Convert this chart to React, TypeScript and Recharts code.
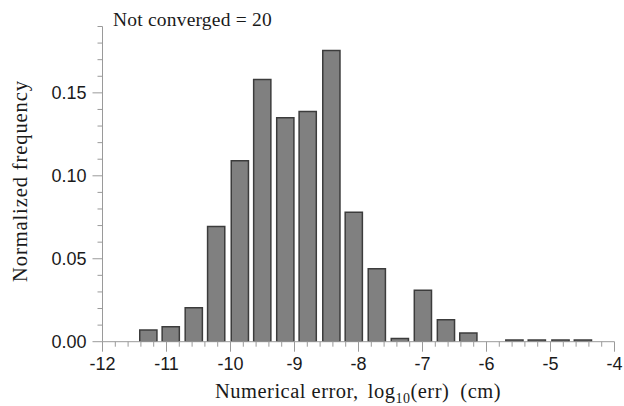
import React from "react";
import { BarChart, Bar, XAxis, YAxis, Customized } from "recharts";

// Histogram bins: centre of each bin on the log10(err) axis, and its normalized frequency
const binCenters = [
  -11.29, -10.94, -10.58, -10.23, -9.86, -9.51, -9.15, -8.8, -8.43, -8.08,
  -7.72, -7.36, -7.0, -6.64, -6.29, -5.93, -5.57, -5.22, -4.85, -4.5,
];
const frequencies = [
  0.007, 0.009, 0.0205, 0.0695, 0.109, 0.158, 0.135, 0.1387, 0.1755, 0.078,
  0.044, 0.002, 0.031, 0.0133, 0.0052, 0, 0.001, 0.001, 0.001, 0.001,
];

// Axis tick values and labels
const xMajorTicks = [-12, -11, -10, -9, -8, -7, -6, -5, -4];
const xMajorLabels = ["-12", "-11", "-10", "-9", "-8", "-7", "-6", "-5", "-4"];
const yMajorTicks = [0, 0.05, 0.1, 0.15];
const yMajorLabels = ["0.00", "0.05", "0.10", "0.15"];
const notConvergedCount = 20;

const data = binCenters.map((x, i) => ({ x, freq: frequencies[i] }));

// minor ticks: five per unit on x, every 0.01 on y
const xTicks: number[] = [];
for (let i = 0; i <= 40; i++) xTicks.push(Math.round((-12 + i * 0.2) * 10) / 10);
const yTicks: number[] = [];
for (let i = 0; i <= 19; i++) yTicks.push(i / 100);

const AXIS_COLOR = "#9a9a9a";
const TEXT_COLOR = "#1a1a1a";
const SANS = "'Liberation Sans', Arial, Helvetica, sans-serif";
const SERIF = "'Liberation Serif', 'Times New Roman', serif";

const findMajor = (list: number[], v: number) =>
  list.findIndex((m) => Math.abs(m - v) < 1e-6);

const XTick = (props: any) => {
  const { x, y, payload } = props;
  const idx = findMajor(xMajorTicks, payload.value);
  const major = idx >= 0;
  return (
    <g>
      <line x1={x} x2={x} y1={y} y2={y + (major ? 10 : 5)} stroke={AXIS_COLOR} strokeWidth={1} />
      {major && (
        <text x={x} y={y + 28} textAnchor="middle" fontFamily={SANS} fontSize={18} fill={TEXT_COLOR}>
          {xMajorLabels[idx]}
        </text>
      )}
    </g>
  );
};

const YTick = (props: any) => {
  const { x, y, payload } = props;
  const idx = findMajor(yMajorTicks, payload.value);
  const major = idx >= 0;
  return (
    <g>
      <line x1={x - (major ? 10 : 5)} x2={x} y1={y} y2={y} stroke={AXIS_COLOR} strokeWidth={1} />
      {major && (
        <text x={x - 16} y={y + 6.5} textAnchor="end" fontFamily={SANS} fontSize={18} fill={TEXT_COLOR}>
          {yMajorLabels[idx]}
        </text>
      )}
    </g>
  );
};

// Titles and annotation drawn in the chart's own SVG
const Annotations = () => (
  <g fill={TEXT_COLOR} fontFamily={SERIF}>
    <text x={113} y={26} fontSize={19.5} letterSpacing={0.2}>
      {`Not converged = ${notConvergedCount}`}
    </text>
    <text x={358} y={398} fontSize={20.5} letterSpacing={0.5} textAnchor="middle">
      <tspan>Numerical error,</tspan>
      <tspan dx={9}>log</tspan>
      <tspan fontSize={14} dy={5}>10</tspan>
      <tspan dy={-5}>(err)</tspan>
      <tspan dx={11}>(cm)</tspan>
    </text>
    <text
      x={27}
      y={181}
      fontSize={20.5}
      letterSpacing={0.9}
      textAnchor="middle"
      transform="rotate(-90 27 181)"
    >
      Normalized frequency
    </text>
  </g>
);

export default function App() {
  return (
    <div style={{ position: "absolute", left: 0, top: 0, width: 624, height: 406, background: "#fff" }}>
      <BarChart
        width={624}
        height={406}
        data={data}
        margin={{ top: 26.5, right: 9.5, bottom: 24.3, left: 42.5 }}
      >
        <XAxis
          dataKey="x"
          type="number"
          domain={[-12, -4]}
          ticks={xTicks}
          interval={0}
          allowDataOverflow
          height={40}
          tickSize={0}
          tickMargin={0}
          tickLine={false}
          axisLine={{ stroke: AXIS_COLOR, strokeWidth: 1 }}
          tick={<XTick />}
        />
        <YAxis
          type="number"
          domain={[0, 0.19]}
          ticks={yTicks}
          interval={0}
          allowDataOverflow
          width={60}
          tickSize={0}
          tickMargin={0}
          tickLine={false}
          axisLine={{ stroke: AXIS_COLOR, strokeWidth: 1 }}
          tick={<YTick />}
        />
        <Bar
          dataKey="freq"
          barSize={17.2}
          fill="#808080"
          stroke="#3c3c3c"
          strokeWidth={1.5}
          isAnimationActive={false}
        />
        <Customized component={Annotations} />
      </BarChart>
    </div>
  );
}
